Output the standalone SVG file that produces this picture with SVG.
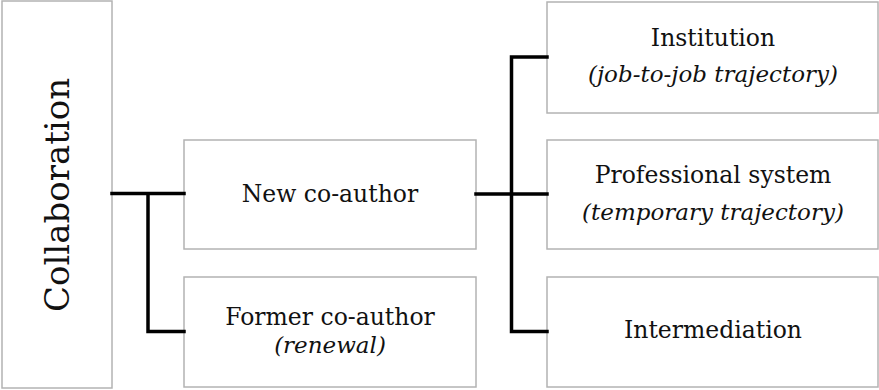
<svg xmlns="http://www.w3.org/2000/svg" width="879" height="390" viewBox="0 0 879 390">
<style>
.box{fill:#fff;stroke:#b3b3b3;stroke-width:1.5}
.t{font-family:"DejaVu Serif","Liberation Serif",serif;font-size:23.5px;fill:#111;text-anchor:middle}
.i{font-style:italic;font-size:23px}
.c{fill:none;stroke:#000;stroke-width:3.5;stroke-linecap:square;stroke-linejoin:miter}
</style>
<rect width="879" height="390" fill="#fff"/>
<g id="collaboration">
<rect class="box" x="2" y="1" width="110" height="387"/>
<text class="t" style="font-size:34px" transform="translate(69,195) rotate(-90)" x="0" y="0">Collaboration</text>
</g>
<g id="new-coauthor">
<rect class="box" x="184" y="140" width="292" height="109"/>
<text class="t" x="330" y="202">New co-author</text>
</g>
<g id="former-coauthor">
<rect class="box" x="184" y="277" width="292" height="110"/>
<text class="t" x="330" y="325">Former co-author</text>
<text class="t i" x="330" y="353">(renewal)</text>
</g>
<g id="institution">
<rect class="box" x="547" y="2" width="331" height="111"/>
<text class="t" x="713" y="46">Institution</text>
<text class="t i" x="713" y="82">(job-to-job trajectory)</text>
</g>
<g id="professional-system">
<rect class="box" x="547" y="140" width="331" height="109"/>
<text class="t" x="713" y="183">Professional system</text>
<text class="t i" x="713" y="220">(temporary trajectory)</text>
</g>
<g id="intermediation">
<rect class="box" x="547" y="277" width="331" height="110"/>
<text class="t" x="713" y="338">Intermediation</text>
</g>
<g id="connectors">
<path class="c" d="M112,193.5 H184 M148,193.5 V331.5 H184"/>
<path class="c" d="M476,194 H547 M511.5,57 V331.5 H547 M511.5,57 H547"/>
</g>
</svg>
